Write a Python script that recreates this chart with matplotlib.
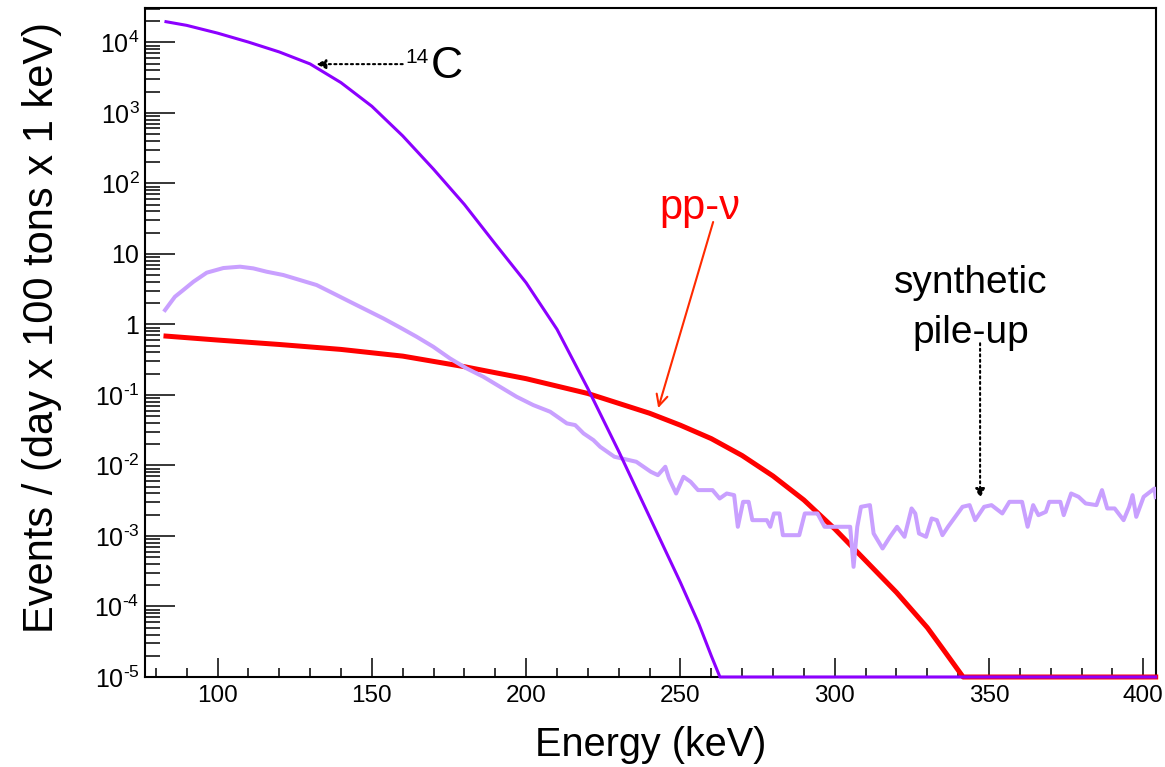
import numpy as np
import matplotlib
matplotlib.use('Agg')
import matplotlib.pyplot as plt
from matplotlib.ticker import FixedLocator, LogLocator, MultipleLocator, NullFormatter

plt.rcParams['font.family'] = ['Liberation Sans', 'DejaVu Sans']
plt.rcParams['mathtext.fontset'] = 'custom'
plt.rcParams['mathtext.rm'] = 'Liberation Sans'
plt.rcParams['mathtext.it'] = 'Liberation Sans:italic'

# 14C spectrum (energy in keV, log10 of rate)
c14_kev = [83.3, 90, 100, 110, 120, 130, 140, 150, 160, 170, 180, 190, 200, 210,
           220, 230, 240, 250, 256, 260, 262.8, 404.0]
c14_log = [4.292, 4.24, 4.13, 4.003, 3.863, 3.693, 3.428, 3.093, 2.673, 2.20, 1.70,
           1.14, 0.59, -0.07, -0.91, -1.80, -2.73, -3.66, -4.25, -4.70, -5.0, -5.0]

# pp neutrino spectrum
pp_kev = [83.3, 100, 120, 140, 160, 180, 200, 220, 240, 250, 260, 270, 280, 290,
          300, 310, 320, 330, 335, 341.6, 404.0]
pp_log = [-0.166, -0.222, -0.285, -0.355, -0.45, -0.60, -0.77, -0.98, -1.26, -1.43,
          -1.62, -1.86, -2.15, -2.49, -2.90, -3.35, -3.80, -4.30, -4.60, -5.0, -5.0]

# synthetic pile-up spectrum
pileup_kev = [83.0, 84.6, 86.2, 88.9, 92.2, 96.5, 101.9, 107.3, 111.6, 115.9,
              121.3, 126.7, 132.1, 137.5, 142.9, 148.3, 153.7, 159.1, 164.5, 169.9,
              175.3, 180.7, 186.1, 191.5, 196.9, 202.3, 207.8, 213.2, 215.9, 218.6, 221.8,
              224.0, 228.6, 235.7, 240.4, 242.7, 245.1, 246.3, 248.6, 251.0, 253.3,
              255.7, 260.4, 262.7, 265.0, 267.4, 268.6, 270.3, 272.1, 273.3, 278.0,
              279.1, 280.3, 282.1, 283.2, 288.5, 290.3, 294.4, 296.7, 305.0, 306.1,
              307.3, 308.5, 311.4, 312.6, 315.5, 317.9, 320.2, 322.6, 324.9, 326.1,
              327.3, 329.6, 331.4, 333.1, 334.9, 336.7, 341.4, 343.7, 345.5, 348.4,
              350.8, 354.3, 356.6, 360.7, 362.5, 364.3, 366.0, 368.4, 369.5, 373.1,
              374.2, 376.6, 379.0, 381.3, 384.8, 386.6, 388.3, 390.7, 393.6, 395.4,
              396.5, 397.7, 400.1, 403.6, 404.0]
pileup_log = [0.203, 0.298, 0.392, 0.487, 0.605, 0.733, 0.799, 0.818, 0.794, 0.747,
              0.700, 0.629, 0.558, 0.440, 0.321, 0.203, 0.085, -0.043, -0.175, -0.317,
              -0.482, -0.624, -0.742, -0.884, -1.026, -1.144, -1.239, -1.404, -1.428, -1.546, -1.641,
              -1.736, -1.877, -1.948, -2.090, -2.138, -2.019, -2.185, -2.398, -2.161, -2.232,
              -2.350, -2.350, -2.469, -2.398, -2.421, -2.870, -2.516, -2.516, -2.776, -2.776,
              -2.870, -2.681, -2.681, -2.989, -2.989, -2.681, -2.681, -2.870, -2.870, -3.438,
              -2.870, -2.587, -2.563, -2.965, -3.178, -3.012, -2.870, -3.012, -2.610, -2.681,
              -2.965, -3.012, -2.752, -2.776, -2.989, -2.870, -2.587, -2.563, -2.776, -2.587,
              -2.563, -2.681, -2.516, -2.516, -2.870, -2.563, -2.705, -2.658, -2.516, -2.516,
              -2.705, -2.398, -2.445, -2.539, -2.563, -2.350, -2.610, -2.610, -2.776, -2.587,
              -2.421, -2.729, -2.445, -2.327, -2.45]

y_decades = [1e-5, 1e-4, 1e-3, 1e-2, 1e-1, 1, 10, 1e2, 1e3, 1e4]
y_labels = [r'$\mathregular{10^{\text{-}5}}$', r'$\mathregular{10^{\text{-}4}}$',
            r'$\mathregular{10^{\text{-}3}}$', r'$\mathregular{10^{\text{-}2}}$',
            r'$\mathregular{10^{\text{-}1}}$', '1', '10',
            r'$\mathregular{10^{2}}$', r'$\mathregular{10^{3}}$', r'$\mathregular{10^{4}}$']

fig = plt.figure(figsize=(11.65, 7.67), dpi=100)
ax = fig.add_axes([145 / 1165, 90 / 767, 1011 / 1165, 668.5 / 767])

ax.plot(pp_kev, 10 ** np.array(pp_log), color='#FF0000', lw=3.6, zorder=3, clip_on=False,
        solid_joinstyle='round')
ax.plot(pileup_kev, 10 ** np.array(pileup_log), color='#C9A0FF', lw=2.9, zorder=4,
        solid_joinstyle='round')
ax.plot(c14_kev, 10 ** np.array(c14_log), color='#8C00FF', lw=2.2, zorder=5, clip_on=False,
        solid_joinstyle='round')

ax.set_yscale('log')
ax.set_xlim(76.5, 404.1)
ax.set_ylim(1e-5, 10 ** 4.479)

ax.yaxis.set_major_locator(FixedLocator(y_decades))
ax.set_yticklabels(y_labels)
ax.yaxis.set_minor_locator(LogLocator(base=10, subs=np.arange(2, 10), numticks=20))
ax.yaxis.set_minor_formatter(NullFormatter())
ax.xaxis.set_major_locator(MultipleLocator(50))
ax.xaxis.set_minor_locator(MultipleLocator(10))

ax.tick_params(axis='both', which='both', direction='in', top=False, right=False, width=1.1)
ax.tick_params(axis='y', which='major', length=21.6, labelsize=18, pad=4)
ax.tick_params(axis='y', which='minor', length=10.8)
ax.tick_params(axis='x', which='major', length=13.7, labelsize=17.5, pad=6)
ax.tick_params(axis='x', which='minor', length=6.5)
for s in ax.spines.values():
    s.set_linewidth(1.5)

ax.set_xlabel('Energy (keV)', fontsize=28.5)
ax.set_ylabel('Events / (day x 100 tons x 1 keV)', fontsize=30)
ax.xaxis.set_label_coords(0.5, -0.074)
ax.yaxis.set_label_coords(-0.082, 0.523)

# 14C label
ax.annotate('', xy=(132, 4900), xytext=(160, 4900),
            arrowprops=dict(arrowstyle='-|>', color='black', lw=1.5, linestyle=':',
                            mutation_scale=14, shrinkA=0, shrinkB=0))
ax.text(168.5, 5080, '14', fontsize=15, ha='right', va='baseline')
ax.text(169.2, 3110, 'C', fontsize=32, ha='left', va='baseline')

# pp-nu label
ax.text(256.4, 45, 'pp-ν', color='red', fontsize=30, ha='center', va='center')
ax.annotate('', xy=(242.8, 0.065), xytext=(260.6, 28.3),
            arrowprops=dict(arrowstyle='->', color='#FF2A00', lw=1.5,
                            mutation_scale=20, shrinkA=0, shrinkB=0))

# pile-up label
ax.text(344.2, 3.85, 'synthetic', fontsize=28, ha='center', va='center')
ax.text(344.2, 0.75, 'pile-up', fontsize=28, ha='center', va='center')
ax.annotate('', xy=(347.1, 0.00343), xytext=(347.1, 0.54),
            arrowprops=dict(arrowstyle='-|>', color='black', lw=1.5, linestyle=':',
                            mutation_scale=14, shrinkA=0, shrinkB=0))

fig.savefig('out.png', dpi=100)
